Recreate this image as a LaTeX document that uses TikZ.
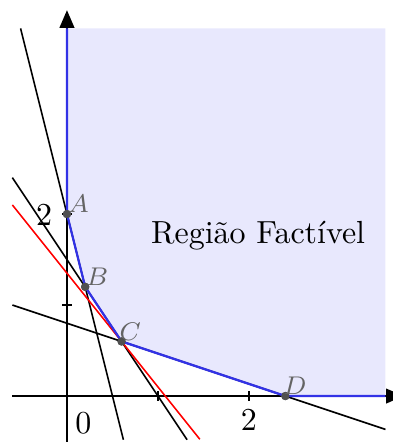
\documentclass[tikz,border=0pt]{standalone}
\usetikzlibrary{arrows.meta}
\definecolor{regionfill}{RGB}{232,232,253}
\definecolor{bnd}{RGB}{50,50,230}
\definecolor{ptgray}{RGB}{80,80,80}
\definecolor{lblgray}{RGB}{100,100,100}
\begin{document}
\begin{tikzpicture}[x=1cm,y=1cm,
  axis/.style={line width=0.5pt, -{Triangle[length=5.5pt,width=4.6pt]}},
  cons/.style={black, line width=0.5pt},
  obj/.style={red, line width=0.5pt},
  bndline/.style={bnd, line width=0.7pt},
  pt/.style={circle, fill=ptgray, inner sep=0pt, minimum size=2.6pt},
  ptlabel/.style={text=lblgray, font=\fontsize{8}{9}\selectfont, inner sep=0.2pt, anchor=south west},
  ticklbl/.style={inner sep=0pt},
  tickmark/.style={line width=0.4pt}]
\useasboundingbox (-0.736,-0.505) rectangle (3.582,4.352);
% feasible region
\fill[regionfill] (0,4.04) -- (0,2) -- (0.2,1.2) -- (0.6,0.6) -- (2.4,0) -- (3.5,0) -- (3.5,4.04) -- cycle;
% axes
\coordinate (xs) at (-0.6,0);
\coordinate (xe) at (3.7,0);
\coordinate (ys) at (0,-0.6);
\coordinate (ye) at (0,4.24);
\draw[axis] (xs) -- (xe);
\draw[axis] (ys) -- (ye);
% ticks
\foreach \t in {1,2} {
  \draw[tickmark] (\t,-0.05) -- (\t,0.05);
  \draw[tickmark] (-0.05,\t) -- (0.05,\t);
}
% constraint lines
\coordinate (l1a) at (-0.51,4.04);
\coordinate (l1b) at (0.62,-0.48);
\coordinate (l2a) at (-0.6,2.4);
\coordinate (l2b) at (1.32,-0.48);
\coordinate (l3a) at (-0.6,1.0);
\coordinate (l3b) at (3.5,-0.3667);
\draw[cons] (l1a) -- (l1b);
\draw[cons] (l2a) -- (l2b);
\draw[cons] (l3a) -- (l3b);
% objective line
\coordinate (ra) at (-0.6,2.1);
\coordinate (rb) at (1.46,-0.475);
\draw[obj] (ra) -- (rb);
% vertices
\node[pt] (A) at (0,2) {};
\node[pt] (B) at (0.2,1.2) {};
\node[pt] (C) at (0.6,0.6) {};
\node[pt] (D) at (2.4,0) {};
\coordinate (top) at (0,4.04);
\coordinate (xr) at (3.5,0);
\draw[bndline] (top) -- (A.center) -- (B.center) -- (C.center) -- (D.center) -- (xr);
\node[pt] at (A) {};
\node[pt] at (B) {};
\node[pt] at (C) {};
\node[pt] at (D) {};
% labels
\node[ptlabel] (lA) at (A.center) {$A$};
\node[ptlabel] (lB) at (B.center) {$B$};
\node[ptlabel] (lC) at ([xshift=-1pt]C.center) {$C$};
\node[ptlabel] (lD) at ([xshift=-1pt]D.center) {$D$};
\node[ticklbl] (t0) at (0.18,-0.3) {$0$};
\node[ticklbl] (tx2) at (2,-0.26) {$2$};
\node[ticklbl] (ty2) at (-0.25,1.99) {$2$};
\node[anchor=base, inner sep=0pt] (reg) at (2.1,1.68) {Região Factível};
\end{tikzpicture}
\end{document}
